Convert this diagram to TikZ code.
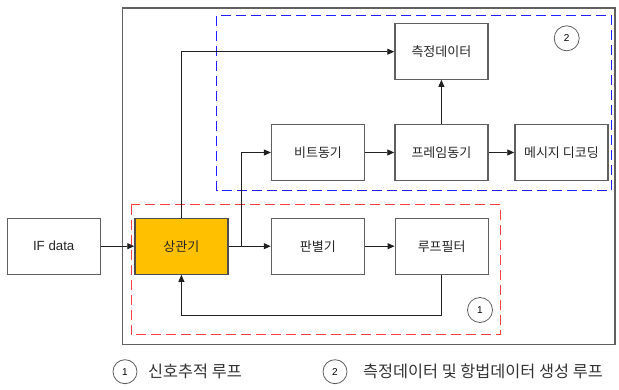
\documentclass[tikz,border=0pt]{standalone}
\usepackage{fontspec}
\setmainfont{Liberation Sans}
\newfontfamily\kr{Noto Sans CJK KR}
\usetikzlibrary{arrows.meta}
\definecolor{boxgray}{HTML}{606060}
\definecolor{linegray}{HTML}{202020}
\definecolor{corrfill}{HTML}{FFC000}
\definecolor{redd}{HTML}{FF4040}
\definecolor{blued}{HTML}{2020FF}
\tikzset{
  blk/.style={draw=boxgray, line width=1.3pt, minimum width=93pt, minimum height=56pt, inner sep=0pt, font=\kr\fontsize{13}{15}\selectfont, text=black!85, fill=white},
  conn/.style={draw=linegray, line width=0.9pt, -{Triangle[length=7pt,width=6pt]}},
  numc/.style={draw=boxgray, circle, line width=0.8pt, minimum size=25pt, inner sep=0pt, font=\fontsize{10}{12}\selectfont},
  legtxt/.style={anchor=west, inner sep=0pt, font=\kr\fontsize{16.3}{18}\selectfont, text=black!80}
}
\begin{document}
\begin{tikzpicture}[x=1pt,y=-1pt]
\useasboundingbox (0,0) rectangle (619,390);
% outer box
\draw[draw=boxgray, line width=1.5pt] (122.5,8) rectangle (615,344.5);
% dashed regions
\draw[draw=blued, line width=1pt, dash pattern=on 10pt off 5pt] (216.7,16) rectangle (611.7,190.7);
\draw[draw=redd, line width=1pt, dash pattern=on 10pt off 5pt] (131,205) rectangle (500.7,335);
% blocks
\node[blk, font=\fontsize{13.3}{15}\selectfont] (ifd) at (53.7,246.2) {IF data};
\node[blk, fill=corrfill, draw=linegray!80] (cor) at (181.4,246.2) {상관기};
\node[blk] (dis) at (317.9,246.2) {판별기};
\node[blk] (lf) at (441.7,246.2) {루프필터};
\node[blk] (bit) at (318,152.5) {비트동기};
\node[blk] (frm) at (441.4,152.5) {프레임동기};
\node[blk] (msg) at (561.4,152.5) {메시지 디코딩};
\node[blk] (meas) at (441.4,51.2) {측정데이터};
% circles
\node[numc] (c2) at (566.7,38.3) {2};
\node[numc] (c1) at (480,310) {1};
% connectors
\draw[conn] (ifd) -- (cor);
\draw[conn] (cor) -- (dis);
\draw[conn] (dis) -- (lf);
\draw[conn] (bit) -- (frm);
\draw[conn] (frm) -- (msg);
\draw[conn] (frm) -- (meas);
\coordinate (fb1) at (441.7,315);
\coordinate (fb2) at (181.4,315);
\draw[conn] (lf.south) -- (fb1) -- (fb2) -- (cor.south);
\coordinate (up1) at (181.4,51.7);
\draw[conn] (cor.north) -- (up1) -- (meas.west |- up1);
\coordinate (br0) at (241.7,246.2);
\coordinate (br1) at (241.7,152.5);
\draw[conn] (br0) -- (br1) -- (bit.west);
% legend
\node[numc, minimum size=24pt] (l1) at (125,371.7) {1};
\node[legtxt] (t1) at (148,371.7) {신호추적 루프};
\node[numc, minimum size=24pt] (l2) at (335,371.7) {2};
\node[legtxt] (t2) at (363,371.7) {측정데이터 및 항법데이터 생성 루프};
\end{tikzpicture}
\end{document}
